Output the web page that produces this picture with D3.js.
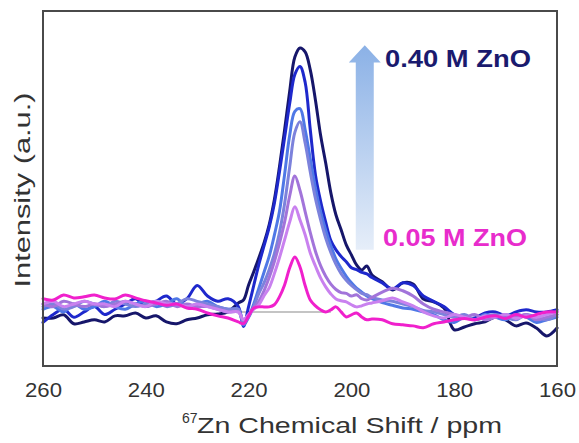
<!DOCTYPE html>
<html><head><meta charset="utf-8">
<script src="https://cdn.jsdelivr.net/npm/d3@7"></script>
<style>body{margin:0;background:#fff}svg{display:block}</style>
</head><body>
<svg id="c" width="579" height="443"></svg>
<script>
// chemical shift grid (ppm)
const ppm = [260,258,256,254,252,250,248,246,244,242,240,238,236,234,232,230,228,226,224,
  222,221,220,219,218,217,216,215,214,213,212,211,210,209,208,207,206,205,204,203,202,201,200,199,198,197,196,
  194,192,190,188,186,184,182,180,178,176,174,172,170,168,166,164,162,160];

const s040 = [-2.3,-2.3,-1.1,-4.5,-3.8,-3.0,-3.8,-1.5,-1.5,-0.4,-2.3,-1.5,-3.8,-4.5,-3.0,-2.3,-1.1,-0.8,0,
  3.4,4.5,10.2,15.2,20.5,26.1,33.0,42.4,54.9,68.9,83.7,96.6,100,98.5,91.7,80.3,67.0,56.4,45.1,36.7,31.1,25.4,21.6,17.8,15.9,17.4,14.0,
  11.4,8.3,11.0,10.6,4.9,3.8,1.5,-6.8,-5.7,-4.5,-3.8,-1.9,-3.0,-5.3,-4.2,-6.1,-9.1,-6.1];
const s030 = [-4,-1,1,-2,0,2,-1,1,3,5,2,4,6,3,5,10,6,4,5,
  2,-5.5,2,10,18,25,32,41,53,66,79,90,93,87,69,52,42,34,27,23.5,21,19,16.7,16,15,14.4,13,
  11,8.7,11,10,6,4,2,-1,-2.3,-2.3,-0.4,0,-1.5,0,0.8,0,0,0.8];
const s025 = [1,2,0,3,1,2,4,2,1,3,4,2,3,5,2,3,4,2,1,
  1,-5,-2,3,9,15,21,29,38,52,67,76,77,69,58,47,38,31,25,20,16.5,13.5,11,9,7.5,6,5,
  3.5,2.5,1.5,1,0,-1,-3,-4,-2,-3,-1,-2,-3,-1,-2,-4,-3,-2];
const s020 = [2,3,1,2,4,3,2,4,3,2,3,4,2,3,5,4,3,2,1,
  1,-4,-2,2,7,11,16,22,30,41,55,68,72,64,53,43,35,28,22.5,18,14.5,12,10,8.5,7,6.5,5.5,
  4.5,4,3,2,0.5,0,-1,-2,-1,-3,-2,-1,-2,-3,-1,-2,-3,-1];
const s015 = [3,2,4,3,2,3,2,3,4,3,2,3,4,2,3,2,2,1,0,
  0,-3,-1,1.5,4,8,13,19,26,34,44,51.5,46,38,30,23,17.5,13.5,10.5,8.5,7.3,7,6,6.5,5,4.5,5.5,
  7.5,9,8,6,3,1,0,-1,-2,-1,-3,-2,-1,-2,-1,-3,-2,-1];
const s010 = [3,4,2,3,4,3,3,2,4,3,2,4,3,3,2,3,2,1,0,
  0,-3,-1,1,2.7,6.1,9.1,14.4,20.5,27.3,34.1,39.8,34.8,29.2,22.3,17.4,12.9,9.5,6.8,4.9,4.2,3.8,2.7,1.9,2.3,3.0,3.4,
  4.2,5.3,3.8,2.3,0,-1.5,-2.3,-1,-2,-3,-1.5,-2,-1,-2.5,-1.5,-2,-1,0];
const s005 = [5,4.5,6.4,5.3,5.7,6.4,5.3,4.9,6.4,5.3,4.2,3.4,2.5,3.0,1.5,1.0,-0.4,-1.5,-2.3,
  -3.8,-4.5,-1.5,1.5,1.9,1.9,1.9,2.7,5.7,10.2,16.7,20.8,17,10,4.5,2.3,0.8,0,0.8,1.9,0,-1.9,-1.1,-0.4,-1.9,-3.0,-2.7,
  -3,-4.5,-4.9,-5.3,-6,-4.5,-3.8,-3,-2.5,-3,-2,-1.5,-2.5,-1,-2,-1,0,0];

const seriesNames = ["0.40 M","0.30 M","0.25 M","0.20 M","0.15 M","0.10 M","0.05 M"];
const seriesValues = [s040,s030,s025,s020,s015,s010,s005];
const seriesColors = ["#16166a","#1e28cc","#4f78e6","#7c82dc","#a274da","#c981ef","#f020cc"];

const xTicks = [260,240,220,200,180,160];
const labelHigh = "0.40 M ZnO";
const labelLow = "0.05 M ZnO";

const svg = d3.select("#c");
const L=43, R=557, T=11, B=366;
const x = d3.scaleLinear().domain([260,160]).range([L,R]);
const y = d3.scaleLinear().domain([-20.5,114]).range([B,T]);

// baseline
svg.append("line").attr("x1",x(222)).attr("x2",x(204)).attr("y1",y(0)).attr("y2",y(0))
  .attr("stroke","#c4c4c4").attr("stroke-width",2);

// arrow
const defs = svg.append("defs");
const g = defs.append("linearGradient").attr("id","ag").attr("x1",0).attr("y1",1).attr("x2",0).attr("y2",0);
g.append("stop").attr("offset","0%").attr("stop-color","#e6eef9");
g.append("stop").attr("offset","100%").attr("stop-color","#8bb1e6");
const ax = x(197.4), tipY=y(101), headY=y(94.5), botY=y(23.5);
svg.append("path").attr("fill","url(#ag)")
  .attr("d",`M${ax},${tipY} L${ax+16},${headY} L${ax+9},${headY} L${ax+9},${botY} L${ax-9},${botY} L${ax-9},${headY} L${ax-16},${headY} Z`);

const line = d3.line().x((d,i)=>x(ppm[i])).y(d=>y(d)).curve(d3.curveCatmullRom.alpha(0.5));
seriesValues.forEach((vals,k)=>{
  svg.append("path").datum(vals).attr("d",line).attr("fill","none")
    .attr("stroke",seriesColors[k]).attr("stroke-width",3)
    .attr("stroke-linejoin","round").attr("stroke-linecap","round");
});

// frame
svg.append("rect").attr("x",L).attr("y",T).attr("width",R-L).attr("height",B-T)
  .attr("fill","none").attr("stroke","#4a4a4a").attr("stroke-width",2);

// axis
const xa = svg.append("g").attr("transform",`translate(0,${B})`)
  .call(d3.axisBottom(x).tickValues(xTicks).tickSize(0).tickPadding(16).tickFormat(d3.format("d")));
xa.select(".domain").remove();
xa.selectAll("text").attr("font-family","Liberation Sans, Arial, sans-serif").attr("font-size",21)
  .attr("fill","#333").attr("textLength",37).attr("lengthAdjust","spacingAndGlyphs");

// x title
const xt = svg.append("text").attr("x",182).attr("y",433)
  .attr("font-family","Liberation Sans, Arial, sans-serif").attr("fill","#333");
xt.append("tspan").attr("font-size",14).attr("dy",-10).text("67");
xt.append("tspan").attr("font-size",22).attr("dy",10).attr("x",197)
  .attr("textLength",305).attr("lengthAdjust","spacingAndGlyphs").text("Zn Chemical Shift / ppm");

// y title
svg.append("text").attr("transform","translate(30,190) rotate(-90)").attr("text-anchor","middle")
  .attr("font-family","Liberation Sans, Arial, sans-serif").attr("font-size",22).attr("fill","#333")
  .attr("textLength",195).attr("lengthAdjust","spacingAndGlyphs").text("Intensity (a.u.)");

// labels
svg.append("text").attr("x",385).attr("y",67).attr("font-family","Liberation Sans, Arial, sans-serif")
  .attr("font-weight","bold").attr("font-size",23).attr("fill","#1a1a6e")
  .attr("textLength",146).attr("lengthAdjust","spacingAndGlyphs").text(labelHigh);
svg.append("text").attr("x",383).attr("y",246).attr("font-family","Liberation Sans, Arial, sans-serif")
  .attr("font-weight","bold").attr("font-size",23).attr("fill","#e82ccc")
  .attr("textLength",144).attr("lengthAdjust","spacingAndGlyphs").text(labelLow);
</script>
</body></html>
